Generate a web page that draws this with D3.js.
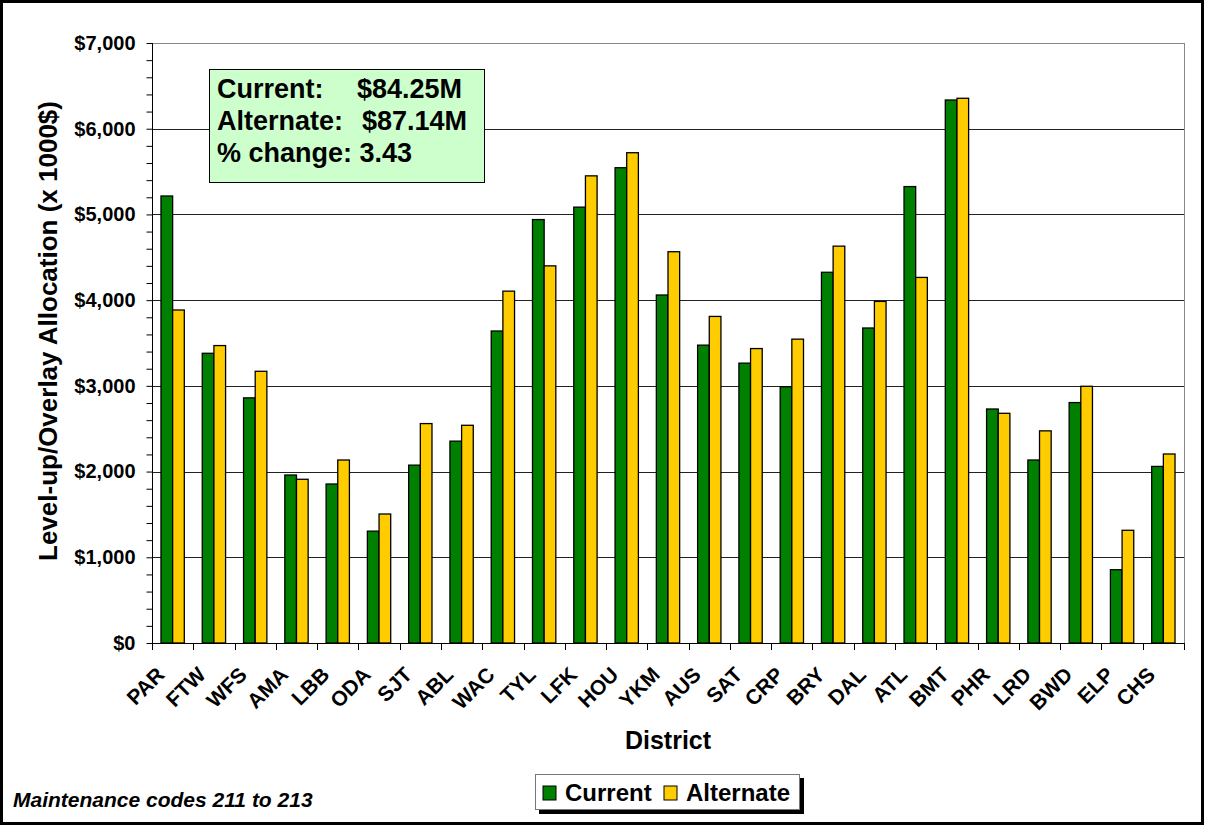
<!DOCTYPE html>
<html>
<head>
<meta charset="utf-8">
<script src="https://cdn.jsdelivr.net/npm/d3@7"></script>
<style>
  body { margin: 0; background: #fff; }
  svg { display: block; font-family: "Liberation Sans", Arial, sans-serif; }
</style>
</head>
<body>
<svg width="1205" height="826"></svg>
<script>
// districts and allocations (x 1000$)
var districts = ["PAR","FTW","WFS","AMA","LBB","ODA","SJT","ABL","WAC","TYL","LFK","HOU","YKM",
                 "AUS","SAT","CRP","BRY","DAL","ATL","BMT","PHR","LRD","BWD","ELP","CHS"];
var current   = [5215,3380,2860,1960,1855,1305,2075,2355,3640,4940,5085,5545,4060,
                 3475,3265,2990,4325,3675,5325,6335,2730,2135,2805,855,2060];
var alternate = [3885,3470,3170,1910,2135,1505,2560,2540,4105,4400,5450,5720,4565,
                 3810,3435,3545,4630,3985,4265,6355,2680,2475,2995,1315,2205];
var seriesNames = ["Current","Alternate"];
var seriesColors = ["#008000","#ffcc00"];
var yTicks = [0,1000,2000,3000,4000,5000,6000,7000];
var boxLines = [["Current:", "$84.25M"], ["Alternate:", "$87.14M"], ["% change: 3.43", ""]];

var svg = d3.select("svg");

// outer frame
svg.append("rect")
    .attr("x", 1.5).attr("y", 1.5)
    .attr("width", 1201).attr("height", 822)
    .attr("fill", "#fff")
    .attr("stroke", "#000")
    .attr("stroke-width", 3);

var plotLeft = 152, plotRight = 1184, plotTop = 43, plotBottom = 643;

var x0 = d3.scaleBand().domain(districts).range([plotLeft, plotRight])
    .paddingInner(0.435).paddingOuter(0.2175);
var x1 = d3.scaleBand().domain(seriesNames).range([0, x0.bandwidth()]);
var y = d3.scaleLinear().domain([0, 7000]).range([plotBottom, plotTop]);

// gridlines
svg.append("g")
    .selectAll("line")
    .data(yTicks.slice(1))
    .enter()
    .append("line")
    .attr("x1", plotLeft).attr("x2", plotRight)
    .attr("y1", function(d) { return Math.round(y(d)) + 0.5; })
    .attr("y2", function(d) { return Math.round(y(d)) + 0.5; })
    .attr("stroke", function(d) { return d == 7000 ? "#888" : "#222"; })
    .attr("stroke-width", 1);

// right border of plot area
svg.append("line")
    .attr("x1", plotRight + 0.5).attr("x2", plotRight + 0.5)
    .attr("y1", plotTop).attr("y2", plotBottom)
    .attr("stroke", "#888");

// bars
var rows = districts.map(function(d, i) {
    return { district: d, values: [current[i], alternate[i]] };
});

svg.append("g")
    .selectAll("g")
    .data(rows)
    .enter()
    .append("g")
    .attr("transform", function(d) { return "translate(" + x0(d.district) + ",0)"; })
    .selectAll("rect")
    .data(function(d) { return d.values.map(function(v, k) { return { key: seriesNames[k], value: v, k: k }; }); })
    .enter()
    .append("rect")
    .attr("x", function(d) { return x1(d.key); })
    .attr("y", function(d) { return y(d.value); })
    .attr("width", x1.bandwidth())
    .attr("height", function(d) { return plotBottom - y(d.value); })
    .attr("fill", function(d) { return seriesColors[d.k]; })
    .attr("stroke", "#000")
    .attr("stroke-width", 1.3);

// y axis: minor ticks every 200, labels at 1000s
var yAxis = d3.axisLeft(y)
    .tickValues(d3.range(0, 7001, 200))
    .tickSize(6)
    .tickFormat(function(d) { return d % 1000 == 0 ? d3.format("$,")(d) : ""; })
    .tickPadding(11);

var gy = svg.append("g")
    .attr("transform", "translate(" + (plotLeft + 0.5) + ",0)")
    .call(yAxis);
gy.select(".domain").attr("stroke", "#000").attr("d", "M0," + plotTop + "V" + (plotBottom + 0.5));
gy.selectAll(".tick line").attr("stroke", "#000");
gy.selectAll(".tick text")
    .attr("font-size", 20)
    .attr("font-weight", "bold")
    .attr("fill", "#000")
    .attr("font-family", "Liberation Sans, Arial, sans-serif");

// x axis: ticks at category boundaries
var boundaries = districts.map(function(d) { return x0(d) - x0.step() * x0.paddingOuter(); });
boundaries.push(plotRight);
svg.append("g")
    .selectAll("line")
    .data(boundaries)
    .enter()
    .append("line")
    .attr("x1", function(d) { return Math.round(d) + 0.5; })
    .attr("x2", function(d) { return Math.round(d) + 0.5; })
    .attr("y1", plotBottom).attr("y2", plotBottom + 7)
    .attr("stroke", "#000");

svg.append("line")
    .attr("x1", plotLeft).attr("x2", plotRight + 1)
    .attr("y1", plotBottom + 0.5).attr("y2", plotBottom + 0.5)
    .attr("stroke", "#000");

svg.append("g")
    .selectAll("text")
    .data(districts)
    .enter()
    .append("text")
    .attr("transform", function(d) {
        var cx = x0(d) + x0.bandwidth() / 2;
        return "translate(" + (cx - 7) + "," + (plotBottom + 33) + ") rotate(-45)";
    })
    .attr("text-anchor", "end")
    .attr("font-size", 21)
    .attr("font-weight", "bold")
    .text(function(d) { return d; });

// axis titles
svg.append("text")
    .attr("transform", "translate(57," + 331 + ") rotate(-90)")
    .attr("text-anchor", "middle")
    .attr("font-size", 26)
    .attr("font-weight", "bold")
    .text("Level-up/Overlay Allocation (x 1000$)");

svg.append("text")
    .attr("x", 668).attr("y", 749)
    .attr("text-anchor", "middle")
    .attr("font-size", 25)
    .attr("font-weight", "bold")
    .text("District");

// summary box
var box = svg.append("g");
box.append("rect")
    .attr("x", 209.5).attr("y", 69.5)
    .attr("width", 275).attr("height", 113)
    .attr("fill", "#ccffcc")
    .attr("stroke", "#000");
var valueX = [357, 362, 0];
boxLines.forEach(function(l, i) {
    box.append("text")
        .attr("x", 217).attr("y", 98 + i * 32)
        .attr("font-size", 27)
        .attr("font-weight", "bold")
        .text(l[0]);
    if (l[1]) {
        box.append("text")
            .attr("x", valueX[i]).attr("y", 98 + i * 32)
            .attr("font-size", 27)
            .attr("font-weight", "bold")
            .text(l[1]);
    }
});

// legend
var lg = svg.append("g").attr("transform", "translate(535,774)");
lg.append("rect").attr("x", 4).attr("y", 4).attr("width", 265).attr("height", 36).attr("fill", "#000");
lg.append("rect").attr("x", 0.5).attr("y", 0.5).attr("width", 264).attr("height", 35)
    .attr("fill", "#fff").attr("stroke", "#777");
var legendX = [[8, 30], [129, 151]];
seriesNames.forEach(function(s, i) {
    lg.append("rect")
        .attr("x", legendX[i][0]).attr("y", 12)
        .attr("width", 13).attr("height", 14)
        .attr("fill", seriesColors[i])
        .attr("stroke", "#000");
    lg.append("text")
        .attr("x", legendX[i][1]).attr("y", 27)
        .attr("font-size", 24)
        .attr("font-weight", "bold")
        .text(s);
});

// footnote
svg.append("text")
    .attr("x", 13).attr("y", 807)
    .attr("font-size", 21)
    .attr("font-weight", "bold")
    .attr("font-style", "italic")
    .text("Maintenance codes 211 to 213");
</script>
</body>
</html>
